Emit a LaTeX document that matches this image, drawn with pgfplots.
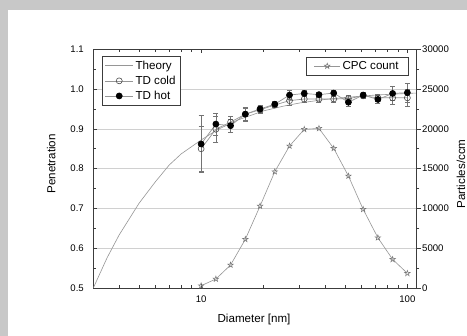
\documentclass[border=0pt]{standalone}
\usepackage{fontspec}
\setmainfont{Liberation Sans}
\usepackage{pgfplots}
\pgfplotsset{compat=1.18}
\usetikzlibrary{plotmarks}
\definecolor{bggray}{RGB}{200,200,200}
\definecolor{linegray}{RGB}{150,150,150}
\definecolor{axgray}{RGB}{60,60,60}
\definecolor{gridgray}{RGB}{208,208,208}
\pgfdeclareplotmark{ostar}{%
 \pgfpathmoveto{\pgfqpoint{0pt}{\pgfplotmarksize}}%
 \pgfpathlineto{\pgfqpoint{-0.235\pgfplotmarksize}{0.324\pgfplotmarksize}}%
 \pgfpathlineto{\pgfqpoint{-0.951\pgfplotmarksize}{0.309\pgfplotmarksize}}%
 \pgfpathlineto{\pgfqpoint{-0.380\pgfplotmarksize}{-0.124\pgfplotmarksize}}%
 \pgfpathlineto{\pgfqpoint{-0.588\pgfplotmarksize}{-0.809\pgfplotmarksize}}%
 \pgfpathlineto{\pgfqpoint{0pt}{-0.4\pgfplotmarksize}}%
 \pgfpathlineto{\pgfqpoint{0.588\pgfplotmarksize}{-0.809\pgfplotmarksize}}%
 \pgfpathlineto{\pgfqpoint{0.380\pgfplotmarksize}{-0.124\pgfplotmarksize}}%
 \pgfpathlineto{\pgfqpoint{0.951\pgfplotmarksize}{0.309\pgfplotmarksize}}%
 \pgfpathlineto{\pgfqpoint{0.235\pgfplotmarksize}{0.324\pgfplotmarksize}}%
 \pgfpathclose\pgfusepathqstroke}
\newcommand\tickfont{\fontsize{9.6bp}{11bp}\selectfont}
\newcommand\labfont{\fontsize{11.6bp}{13bp}\selectfont}

\pgfplotstableread{
x      y
3      0.500
3.5    0.576
4      0.633
5      0.713
6      0.767
7      0.809
8      0.837
10     0.872
12     0.898
15     0.922
20     0.945
25     0.957
30     0.965
40     0.974
50     0.979
70     0.985
100    0.989
110    0.990
}\theory

\pgfplotstableread{
x       y      e
10      0.850  0.057
11.79   0.899  0.033
13.89   0.917  0.014
16.38   0.937  0.015
19.31   0.948  0.008
22.76   0.960  0.007
26.83   0.971  0.012
31.62   0.975  0.008
37.28   0.975  0.007
43.94   0.975  0.008
51.79   0.976  0.008
61.05   0.983  0.006
71.97   0.978  0.008
84.83   0.978  0.015
100     0.978  0.021
}\cold

\pgfplotstableread{
x       y      e
10      0.862  0.072
11.79   0.912  0.027
13.89   0.908  0.016
16.38   0.937  0.017
19.31   0.950  0.008
22.76   0.962  0.008
26.83   0.985  0.011
31.62   0.989  0.008
37.28   0.986  0.007
43.94   0.990  0.007
51.79   0.967  0.010
61.05   0.985  0.006
71.97   0.974  0.010
84.83   0.989  0.018
100     0.991  0.023
}\hot

\pgfplotstableread{
x       y
10      290
11.79   1130
13.89   2890
16.38   6120
19.31   10300
22.76   14620
26.83   17850
31.62   19940
37.28   20060
43.94   17550
51.79   14075
61.05   9890
71.97   6320
84.83   3600
100     1845
}\cpc

\begin{document}
\begin{tikzpicture}
\fill[bggray] (0bp,0bp) rectangle (467bp,336bp);
\fill[white] (8bp,0bp) rectangle (467bp,325.5bp);
\useasboundingbox (0bp,0bp) rectangle (467bp,336bp);
\begin{axis}[
  at={(93.3bp,48bp)}, anchor=south west,
  scale only axis, width=323.4bp, height=238.7bp,
  xmode=log, xmin=3, xmax=111, ymin=0.5, ymax=1.1,
  xtick={10,100}, xticklabels={10,100},
  minor xtick={4,5,6,7,8,9,20,30,40,50,60,70,80,90},
  ytick={0.5,0.6,0.7,0.8,0.9,1.0,1.1},
  yticklabels={0.5,0.6,0.7,0.8,0.9,1.0,1.1},
  minor ytick={0.55,0.65,0.75,0.85,0.95,1.05},
  ytick pos=left,
  tick align=inside,
  major tick length=4bp, minor tick length=2.5bp,
  every tick/.style={axgray, line width=0.7bp},
  axis line style={axgray, line width=1bp},
  ymajorgrids, grid style={gridgray, line width=0.7bp},
  /pgf/number format/assume math mode=true,
  ticklabel style={font=\tickfont},
  xticklabel style={yshift=-4bp},
  yticklabel style={xshift=-6bp},
  xlabel={Diameter [nm]}, ylabel={Penetration},
  label style={font=\labfont},
  xlabel style={at={(rel axis cs:0.497,-0.13)}, anchor=center},
  ylabel style={at={(rel axis cs:-0.13,0.52)}, anchor=center, rotate=0},
  legend style={at={(0.027,0.972)}, anchor=north west, draw=axgray, line width=0.7bp,
    font=\labfont, inner xsep=2.5bp, inner ysep=2.5bp, row sep=1.2bp},
  legend cell align=left,
  legend image code/.code={\draw[mark repeat=2,mark phase=2,#1] plot coordinates {(0bp,0bp) (14bp,0bp) (28bp,0bp)};},
]
\addplot[linegray, line width=0.6bp, no marks] table[x=x,y=y] {\theory};
\addlegendentry{Theory}
\addplot[linegray, line width=0.7bp, mark=o, mark size=3bp,
  mark options={draw=black!70, fill=white, line width=0.6bp},
  error bars/.cd, y dir=both, y explicit,
  error bar style={black!55, line width=0.6bp},
  error mark options={rotate=90, mark size=2.5bp, black!55, line width=0.6bp}]
  table[x=x,y=y,y error=e] {\cold};
\addlegendentry{TD cold}
\addplot[linegray, line width=0.7bp, mark=*, mark size=3bp,
  mark options={draw=black, fill=black},
  error bars/.cd, y dir=both, y explicit,
  error bar style={black!55, line width=0.6bp},
  error mark options={rotate=90, mark size=2.5bp, black!55, line width=0.6bp}]
  table[x=x,y=y,y error=e] {\hot};
\addlegendentry{TD hot}
\end{axis}
\begin{axis}[
  at={(93.3bp,48bp)}, anchor=south west,
  scale only axis, width=323.4bp, height=238.7bp,
  xmode=log, xmin=3, xmax=111, ymin=0, ymax=30000,
  axis y line*=right, axis x line=none,
  ytick={0,5000,10000,15000,20000,25000,30000},
  minor ytick={2500,7500,12500,17500,22500,27500},
  tick align=outside,
  major tick length=4bp, minor tick length=2.5bp,
  every tick/.style={axgray, line width=0.7bp},
  axis line style={axgray, line width=1bp},
  scaled y ticks=false,
  /pgf/number format/1000 sep={},
  /pgf/number format/assume math mode=true,
  ticklabel style={font=\tickfont},
  yticklabel style={xshift=-2bp},
  ylabel={Particles/ccm},
  label style={font=\labfont},
  ylabel style={at={(rel axis cs:1.137,0.478)}, anchor=center, rotate=0},
  legend style={at={(0.976,0.968)}, anchor=north east, draw=axgray, line width=0.7bp,
    font=\labfont, inner xsep=8bp, inner ysep=2bp},
  legend image code/.code={\draw[mark repeat=2,mark phase=2,#1] plot coordinates {(0bp,0bp) (13bp,0bp) (26bp,0bp)};},
]
\addplot[linegray, line width=0.6bp, mark=ostar, mark size=2.9bp,
  mark options={draw=black!55, line width=0.5bp}] table[x=x,y=y] {\cpc};
\addlegendentry{CPC count}
\end{axis}
\end{tikzpicture}
\end{document}
